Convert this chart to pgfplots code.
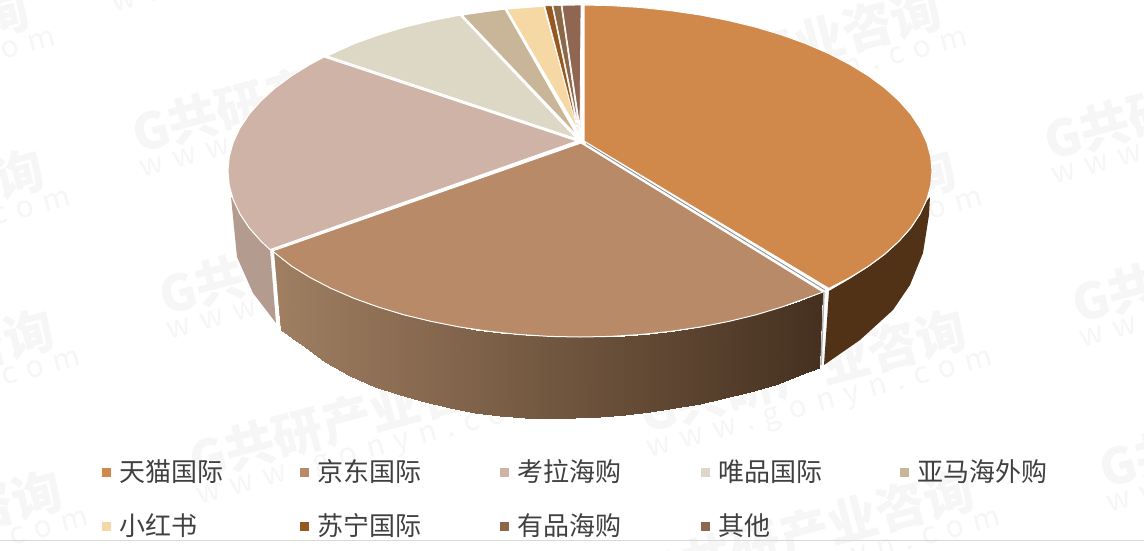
\documentclass[border=0pt]{standalone}
\usepackage{fontspec}
\usepackage{pgfplots}
\pgfplotsset{compat=1.18}
\setmainfont{Noto Sans CJK SC}
\definecolor{wm}{HTML}{F6F6F6}
\definecolor{ctm}{HTML}{D0894B}
\definecolor{cjd}{HTML}{B88A68}
\definecolor{ckl}{HTML}{CFB3A6}
\definecolor{cwp}{HTML}{DDD8C5}
\definecolor{cam}{HTML}{C9B597}
\definecolor{cxh}{HTML}{F5D8A4}
\definecolor{csn}{HTML}{95581E}
\definecolor{cyp}{HTML}{8A6848}
\definecolor{cqt}{HTML}{8F6651}
\definecolor{sdo}{HTML}{513216}
\definecolor{sdp}{HTML}{B39B90}
\newcommand{\wmark}[2]{%
  \node[rotate=15,anchor=west,text=wm,font=\fontsize{50}{52}\selectfont\bfseries,inner sep=0pt] at (axis cs:#1,#2) {G共研产业咨询};
  \node[rotate=15,anchor=west,text=wm,font=\fontsize{30}{32}\selectfont,inner sep=0pt] at (axis cs:#1+8,#2+38) {w\,\,w\,\,w\,\,.\,\,g\,\,o\,\,n\,\,y\,\,n\,\,.\,\,c\,\,o\,\,m};
}
\newcommand{\legitem}[4]{%
  \addplot[only marks,mark=square*,mark size=4pt,color=#3] coordinates {(#1,#2)};
  \node[anchor=west,text=black!75,font=\fontsize{26}{28}\selectfont,inner sep=0pt] at (axis cs:#1+13,#2) {#4};
}
\begin{document}
\begin{tikzpicture}
\begin{axis}[
  scale only axis,
  width=1144pt,height=550pt,
  xmin=0,xmax=1144,ymin=0,ymax=550,
  y dir=reverse,
  hide axis,
  colormap={side}{rgb255(0cm)=(160,127,98); rgb255(1cm)=(69,48,31)},
]
% watermark
\wmark{133}{135}\wmark{160}{297}\wmark{190}{462}\wmark{105}{-30}
\wmark{615}{95}\wmark{630}{255}\wmark{640}{415}\wmark{648}{575}
\wmark{1045}{142}\wmark{1073}{305}\wmark{1100}{470}
\wmark{-297}{95}\wmark{-282}{255}\wmark{-272}{415}\wmark{-264}{575}

% side walls
\addplot[fill=sdo,draw=none] coordinates {(829,291)(849.6,279)(868.4,267)(884.8,255)(899,242)(910.8,229)(920,215)(926.7,201)(930,197)(929,215)(923,253)(910,285)(893,310)(860,340)(824,365)} --cycle;
\addplot[fill=sdp,draw=none] coordinates {(231,197)(233.3,199.8)(240,214)(249.2,228.8)(261,241.2)(270,250)(276,323)(253,293)(237,257)} --cycle;
\addplot[surf,shader=interp,mesh/cols=2,point meta=x] coordinates {
(273,252)(281,330)
(285,261.6)(292,338)
(300,271.6)(305,347)
(325,285.4)(325,362)
(350,296.7)(350,376)
(375,306)(375,387)
(400,313.7)(400,395)
(425,320)(425,402)
(450,325.3)(450,408)
(475,329.5)(475,412.5)
(500,332.7)(500,415.5)
(525,335)(525,418)
(550,336.4)(550,418.5)
(575,337)(575,418)
(600,336.7)(600,417)
(625,335.6)(625,415)
(650,333.7)(650,412)
(675,330.8)(675,408)
(700,327.1)(700,403.5)
(725,322.3)(725,398)
(750,316.4)(750,392)
(775,309.2)(775,384.5)
(800,300.6)(800,375)
(822,292)(819,368)
};

% top faces
\addplot[fill=ckl,draw=white,line width=1pt] coordinates {(577,141)(270,249.6)(261,241.2)(249.2,227.8)(240,214)(233.3,199.8)(229.3,185.5)(228,171)(229.3,156.5)(233.3,142.2)(240,128)(249.2,114.2)(261,100.8)(275.2,88)(291.6,75.8)(310.4,64.3)(324,57)} --cycle;
\addplot[fill=cjd,draw=white,line width=1pt] coordinates {(581,143)(823,292)(806.3,298.2)(781.9,307)(756,314.8)(728.8,321.4)(700.4,327)(671.1,331.3)(641.1,334.5)(610.7,336.4)(580,337)(549.3,336.4)(518.9,334.5)(488.9,331.3)(459.6,327)(431.2,321.4)(404,314.8)(378.1,307)(353.7,298.2)(331.1,288.4)(310.4,277.7)(291.6,266.2)(272.5,251)} --cycle;
\addplot[fill=ctm,draw=white,line width=1pt] coordinates {(584,141)(584,5)(610.7,5.6)(641.1,7.5)(671.1,10.7)(700.4,15)(728.8,20.6)(756,27.2)(781.9,35)(806.3,43.8)(828.9,53.6)(849.6,64.3)(868.4,75.8)(884.8,88)(899,100.8)(910.8,114.2)(920,128)(926.7,142.2)(930.7,156.5)(932,171)(930.7,185.5)(926.7,199.8)(920,214)(910.8,227.8)(899,241.2)(884.8,254)(868.4,266.2)(849.6,277.7)(828.9,288.4)} --cycle;
\addplot[fill=cwp,draw=white,line width=1.2pt] coordinates {(577,139)(327,56)(353.7,43.8)(378.1,35)(404,27.2)(431.2,20.6)(460,15)} --cycle;
\addplot[fill=cam,draw=white,line width=1.2pt] coordinates {(578,137)(462,15)(482,12)(505,9)} --cycle;
\addplot[fill=cxh,draw=white,line width=1.2pt] coordinates {(578,131)(506.5,9)(525,7.5)(544,6)} --cycle;
\addplot[fill=csn,draw=white,line width=0.5pt] coordinates {(578,132)(545,6)(552,5.8)} --cycle;
\addplot[fill=cyp,draw=white,line width=0.5pt] coordinates {(579,130)(553,5.7)(561,5.5)} --cycle;
\addplot[fill=cqt,draw=white,line width=0.8pt] coordinates {(580,128)(562,5.3)(581,5)} --cycle;
\addplot[white,line width=3pt] coordinates {(272.5,252)(279,328)};
\addplot[color=black!30,line width=1.5pt] coordinates {(824,292)(821,365)};
\addplot[color=black!45,line width=0.8pt] coordinates {(586,143.5)(825,290)};

% legend
\legitem{106}{472}{ctm}{天猫国际}
\legitem{304}{472}{cjd}{京东国际}
\legitem{504}{472}{ckl}{考拉海购}
\legitem{705}{472}{cwp}{唯品国际}
\legitem{904}{472}{cam}{亚马海外购}
\legitem{106}{526}{cxh}{小红书}
\legitem{304}{526}{csn}{苏宁国际}
\legitem{504}{526}{cyp}{有品海购}
\legitem{705}{526}{cqt}{其他}
\addplot[color=black!15,line width=1pt] coordinates {(0,540.5)(1144,540.5)};
\end{axis}
\end{tikzpicture}
\end{document}
